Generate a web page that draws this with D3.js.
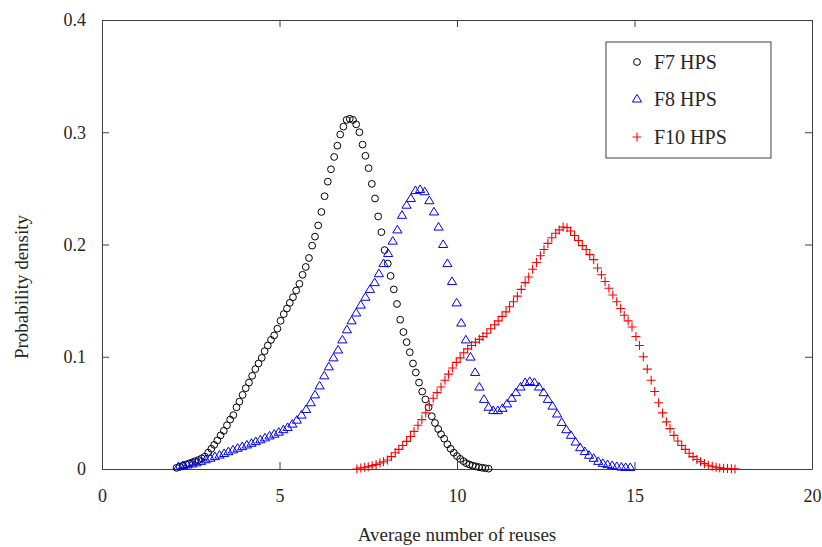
<!DOCTYPE html>
<html><head><meta charset="utf-8">
<script src="https://cdn.jsdelivr.net/npm/d3@7"></script>
<style>
html,body{margin:0;padding:0;background:#fff;}
text{font-family:"Liberation Serif","Times New Roman",serif;fill:#262626;}
</style></head>
<body><svg id="chart" width="822" height="547"></svg>
<script>
const xTicks = [0, 5, 10, 15, 20];
const yTicks = [0, 0.1, 0.2, 0.3, 0.4];
const seriesNames = ["F7 HPS", "F8 HPS", "F10 HPS"];

const f7X = [2.10,2.19,2.28,2.37,2.45,2.54,2.63,2.72,2.81,2.90,
2.99,3.08,3.16,3.25,3.34,3.43,3.52,3.61,3.70,3.79,
3.87,3.96,4.05,4.14,4.23,4.32,4.41,4.50,4.58,4.67,
4.76,4.85,4.94,5.03,5.12,5.21,5.29,5.38,5.47,5.56,
5.65,5.74,5.83,5.92,6.00,6.09,6.18,6.27,6.36,6.45,
6.54,6.63,6.71,6.80,6.89,6.98,7.07,7.16,7.25,7.34,
7.42,7.51,7.60,7.69,7.78,7.87,7.96,8.05,8.13,8.22,
8.31,8.40,8.49,8.58,8.67,8.76,8.84,8.93,9.02,9.11,
9.20,9.29,9.38,9.47,9.55,9.64,9.73,9.82,9.91,10.00,
10.09,10.18,10.26,10.35,10.44,10.53,10.62,10.71,10.80,10.89];
const f7Y = [0.001,0.002,0.003,0.004,0.005,0.006,0.007,0.008,0.0095,0.011,
0.0145,0.018,0.0215,0.0255,0.030,0.034,0.039,0.044,0.048,0.055,
0.060,0.066,0.072,0.077,0.083,0.089,0.094,0.099,0.105,0.110,
0.115,0.119,0.125,0.132,0.138,0.143,0.148,0.153,0.159,0.165,
0.173,0.180,0.188,0.199,0.207,0.217,0.229,0.243,0.256,0.267,
0.278,0.288,0.298,0.305,0.311,0.312,0.311,0.307,0.300,0.289,
0.279,0.268,0.254,0.241,0.225,0.211,0.195,0.183,0.172,0.160,
0.147,0.133,0.122,0.113,0.104,0.094,0.086,0.077,0.069,0.062,
0.055,0.047,0.041,0.0356,0.031,0.027,0.022,0.018,0.0145,0.0115,
0.009,0.007,0.0052,0.004,0.003,0.0023,0.0016,0.0011,0.0007,0.0003];

const f8X = [2.15,2.28,2.41,2.54,2.66,2.79,2.92,3.05,3.18,3.31,
3.44,3.56,3.69,3.82,3.95,4.08,4.21,4.33,4.46,4.59,
4.72,4.85,4.98,5.11,5.23,5.36,5.49,5.62,5.75,5.88,
6.00,6.13,6.26,6.39,6.52,6.65,6.77,6.90,7.03,7.16,
7.29,7.42,7.55,7.68,7.80,7.93,8.06,8.19,8.32,8.45,
8.58,8.70,8.83,8.96,9.09,9.22,9.35,9.48,9.61,9.73,
9.86,9.99,10.12,10.25,10.38,10.51,10.63,10.76,10.89,11.02,
11.15,11.28,11.41,11.54,11.66,11.79,11.92,12.05,12.18,12.31,
12.44,12.56,12.69,12.82,12.95,13.08,13.21,13.34,13.47,13.60,
13.72,13.85,13.98,14.11,14.24,14.37,14.50,14.63,14.75,14.88];
const f8Y = [0.002,0.003,0.0036,0.0045,0.0055,0.0068,0.0082,0.0096,0.011,0.0124,
0.0138,0.0154,0.017,0.0185,0.0199,0.0214,0.0229,0.0244,0.026,0.0277,
0.0294,0.031,0.0328,0.035,0.037,0.040,0.0435,0.048,0.053,0.059,
0.066,0.074,0.083,0.091,0.099,0.106,0.115,0.124,0.132,0.139,
0.146,0.153,0.160,0.166,0.174,0.183,0.192,0.203,0.213,0.226,
0.235,0.241,0.248,0.249,0.247,0.239,0.229,0.2155,0.200,0.183,
0.167,0.148,0.130,0.115,0.0997,0.086,0.073,0.062,0.055,0.052,
0.052,0.054,0.058,0.063,0.068,0.073,0.077,0.078,0.077,0.073,
0.068,0.062,0.056,0.049,0.0415,0.035,0.030,0.024,0.019,0.0155,
0.0122,0.0095,0.0068,0.005,0.0039,0.003,0.0022,0.0017,0.0014,0.0013];

const f10X = [7.18,7.29,7.40,7.50,7.61,7.72,7.83,7.93,8.04,8.15,
8.26,8.36,8.47,8.58,8.69,8.79,8.90,9.01,9.12,9.22,
9.33,9.44,9.55,9.66,9.76,9.87,9.98,10.09,10.19,10.30,
10.41,10.52,10.63,10.73,10.84,10.95,11.06,11.16,11.27,11.38,
11.48,11.59,11.70,11.81,11.92,12.02,12.13,12.24,12.35,12.45,
12.56,12.67,12.78,12.88,12.99,13.10,13.20,13.31,13.42,13.53,
13.64,13.74,13.85,13.96,14.07,14.17,14.28,14.39,14.50,14.61,
14.71,14.82,14.93,15.04,15.14,15.25,15.36,15.47,15.57,15.68,
15.79,15.90,16.00,16.11,16.22,16.33,16.43,16.54,16.65,16.76,
16.86,16.97,17.08,17.19,17.30,17.40,17.51,17.62,17.73,17.83];
const f10Y = [0.000,0.001,0.0015,0.002,0.003,0.004,0.0053,0.0065,0.008,0.011,
0.0145,0.0175,0.021,0.0246,0.029,0.0335,0.039,0.044,0.050,0.057,
0.063,0.068,0.073,0.079,0.0845,0.090,0.095,0.099,0.1035,0.107,
0.110,0.113,0.1155,0.118,0.121,0.125,0.1285,0.132,0.136,0.140,
0.1445,0.149,0.154,0.160,0.166,0.171,0.178,0.184,0.190,0.1955,
0.201,0.206,0.210,0.213,0.2155,0.215,0.212,0.208,0.2035,0.199,
0.1955,0.191,0.1865,0.179,0.173,0.167,0.161,0.155,0.149,0.143,
0.137,0.132,0.1265,0.118,0.110,0.100,0.089,0.079,0.069,0.059,
0.050,0.042,0.036,0.030,0.025,0.021,0.0175,0.014,0.011,0.0085,
0.0066,0.0048,0.0034,0.0024,0.0016,0.001,0.0006,0.0004,0.0002,0.0001];

const W = 822, H = 547;
const margin = {left: 102, right: 10, top: 20, bottom: 78};
const svg = d3.select("#chart");
const x = d3.scaleLinear().domain([0, 20]).range([margin.left, W - margin.right]);
const y = d3.scaleLinear().domain([0, 0.4]).range([H - margin.bottom, margin.top]);
const axisColor = "#404040";
const fs = 18;

function styleAxis(g, labels) {
  g.selectAll(".domain").attr("stroke", axisColor).attr("stroke-width", 1);
  g.selectAll(".tick line").attr("stroke", axisColor);
  g.selectAll(".tick text").attr("font-size", fs).attr("font-family", "Liberation Serif").attr("fill", "#262626");
  if (!labels) g.selectAll(".tick text").remove();
}
const fmtY = d => d === 0 ? "0" : d3.format(".1f")(d);
svg.append("g").attr("transform", `translate(0,${y(0)})`)
  .call(d3.axisBottom(x).tickValues(xTicks).tickSize(-7).tickSizeOuter(0).tickPadding(20).tickFormat(d3.format("d")))
  .call(g => styleAxis(g, true));
svg.append("g").attr("transform", `translate(0,${y(0.4)})`)
  .call(d3.axisTop(x).tickValues(xTicks).tickSize(-7).tickSizeOuter(0))
  .call(g => styleAxis(g, false));
svg.append("g").attr("transform", `translate(${x(0)},0)`)
  .call(d3.axisLeft(y).tickValues(yTicks).tickSize(-7).tickSizeOuter(0).tickPadding(16).tickFormat(fmtY))
  .call(g => styleAxis(g, true));
svg.append("g").attr("transform", `translate(${x(20)},0)`)
  .call(d3.axisRight(y).tickValues(yTicks).tickSize(-7).tickSizeOuter(0))
  .call(g => styleAxis(g, false));

const triPath = "M0,-4.6L4.6,3L-4.6,3Z";
const crossPath = "M-4.5,0H4.5M0,-4.5V4.5";

const plot = svg.append("g");
plot.selectAll("circle.f7").data(d3.zip(f7X, f7Y)).join("circle")
  .attr("class", "f7").attr("cx", d => x(d[0])).attr("cy", d => y(d[1])).attr("r", 3.4)
  .attr("fill", "none").attr("stroke", "#000").attr("stroke-width", 1);
plot.selectAll("path.f8").data(d3.zip(f8X, f8Y)).join("path")
  .attr("class", "f8").attr("d", triPath).attr("transform", d => `translate(${x(d[0])},${y(d[1])})`)
  .attr("fill", "none").attr("stroke", "#0000ff").attr("stroke-width", 1);
plot.selectAll("path.f10").data(d3.zip(f10X, f10Y)).join("path")
  .attr("class", "f10").attr("d", crossPath).attr("transform", d => `translate(${x(d[0])},${y(d[1])})`)
  .attr("fill", "none").attr("stroke", "#ff0000").attr("stroke-width", 1.1);

// axis titles
svg.append("text").attr("x", (x(0) + x(20)) / 2).attr("y", 541).attr("text-anchor", "middle")
  .attr("font-size", 19).text("Average number of reuses");
svg.append("text").attr("transform", "translate(28,287) rotate(-90)").attr("text-anchor", "middle")
  .attr("font-size", 19).text("Probability density");

// legend
const lg = svg.append("g");
lg.append("rect").attr("x", 606).attr("y", 42).attr("width", 165).attr("height", 116)
  .attr("fill", "#fff").attr("stroke", axisColor).attr("stroke-width", 1);
const rowsY = [62, 99, 137];
const markerX = 637;
lg.append("circle").attr("cx", markerX).attr("cy", rowsY[0]).attr("r", 3.4).attr("fill", "none").attr("stroke", "#000");
lg.append("path").attr("d", triPath).attr("transform", `translate(${markerX},${rowsY[1]})`).attr("fill", "none").attr("stroke", "#0000ff");
lg.append("path").attr("d", crossPath).attr("transform", `translate(${markerX},${rowsY[2]})`).attr("fill", "none").attr("stroke", "#ff0000").attr("stroke-width", 1.1);
seriesNames.forEach((n, i) => {
  lg.append("text").attr("x", 654).attr("y", rowsY[i]).attr("dy", "0.35em").attr("font-size", 20).text(n);
});
</script></body></html>
